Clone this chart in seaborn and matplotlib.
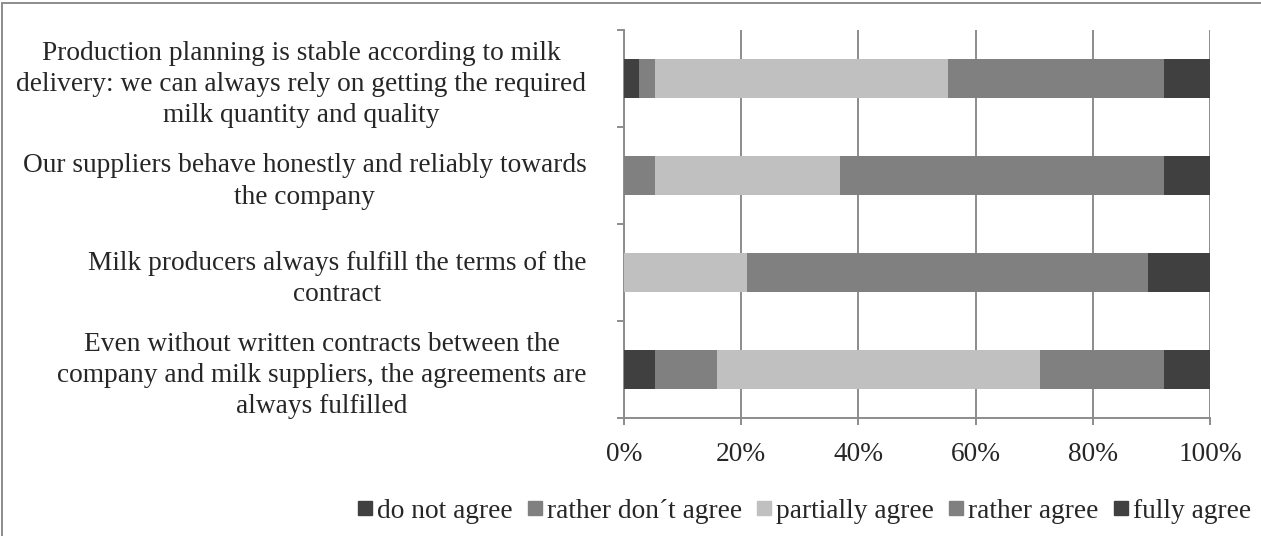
import matplotlib
matplotlib.use("Agg")
import matplotlib.pyplot as plt
from matplotlib.lines import Line2D
from matplotlib.patches import Rectangle
from matplotlib.ticker import FixedLocator, PercentFormatter
import numpy as np
import pandas as pd
import seaborn as sns

# Survey statements (top to bottom)
statements = [
    "Production planning is stable according to milk\ndelivery: we can always rely on getting the required\nmilk quantity and quality",
    "Our suppliers behave honestly and reliably towards\nthe company",
    "Milk producers always fulfill the terms of the\ncontract",
    "Even without written contracts between the\ncompany and milk suppliers, the agreements are\nalways fulfilled",
]

# Share of answers per statement (%)
do_not_agree = [2.63, 0.00, 0.00, 5.26]
rather_dont_agree = [2.63, 5.26, 0.00, 10.53]
partially_agree = [50.00, 31.58, 21.05, 55.26]
rather_agree = [36.84, 55.26, 68.42, 21.05]
fully_agree = [7.90, 7.90, 10.53, 7.90]

series_names = ["do not agree", "rather don\u00b4t agree", "partially agree",
                "rather agree", "fully agree"]
series_values = [do_not_agree, rather_dont_agree, partially_agree,
                 rather_agree, fully_agree]
series_colors = ["#404040", "#808080", "#c0c0c0", "#808080", "#404040"]

x_ticks = [0, 20, 40, 60, 80, 100]

sns.set_theme(style="white")
plt.rcParams["font.family"] = ["Liberation Serif", "DejaVu Serif"]
FS = 19.7

df = pd.DataFrame({"statement": statements})
for name, vals in zip(series_names, series_values):
    df[name] = vals
cum = df[series_names].cumsum(axis=1)
cum["statement"] = df["statement"]

fig = plt.figure(figsize=(12.61, 5.36), dpi=100)
ax = fig.add_axes([624 / 1261, 1 - 418 / 536, (1210 - 624) / 1261, (418 - 30) / 536])

# Stacked bars: draw cumulative totals from the outermost segment inwards
for name, color in reversed(list(zip(series_names, series_colors))):
    sns.barplot(data=cum, x=name, y="statement", order=statements, orient="h",
                color=color, saturation=1, width=0.4, linewidth=0, ax=ax, zorder=3)

ax.set_xlim(0, 100)
ax.set_ylim(len(statements) - 0.5, -0.5)
ax.set_xlabel("")
ax.set_ylabel("")

grid_c = "#8c8c8c"
ax.set_xticks(x_ticks)
ax.xaxis.set_major_formatter(PercentFormatter(decimals=0))
ax.grid(axis="x", color=grid_c, linewidth=1.4, zorder=0)
ax.set_axisbelow(True)

for s in ["top", "right"]:
    ax.spines[s].set_visible(False)
for s in ["left", "bottom"]:
    ax.spines[s].set_color(grid_c)
    ax.spines[s].set_linewidth(1.4)

ax.yaxis.set_minor_locator(FixedLocator(np.arange(-0.5, len(statements), 1.0)))
ax.tick_params(axis="y", which="major", length=0, pad=27, labelsize=FS)
ax.tick_params(axis="y", which="minor", length=5, width=1.4, color=grid_c, left=True)
ax.tick_params(axis="x", which="major", length=5, width=1.4, color=grid_c,
               bottom=True, pad=12, labelsize=FS)
for lbl in ax.get_yticklabels():
    lbl.set_multialignment("center")
    lbl.set_linespacing(1.32)

handles = [Line2D([], [], marker="s", linestyle="none", markersize=9.5,
                  markerfacecolor=c, markeredgecolor=c) for c in series_colors]
fig.legend(handles, series_names, loc="lower right",
           bbox_to_anchor=(1262 / 1261, 1 / 536), ncol=5, frameon=False,
           fontsize=FS, handletextpad=0.0, columnspacing=0.35, handlelength=0.9,
           borderaxespad=0)

# Outer frame of the chart area
fig.add_artist(Rectangle((2 / 1261, -0.05), 1.1, 1.05 - 3 / 536, transform=fig.transFigure,
                         fill=False, edgecolor="#8c8c8c", linewidth=1.4))

fig.savefig("out.png", dpi=100)
